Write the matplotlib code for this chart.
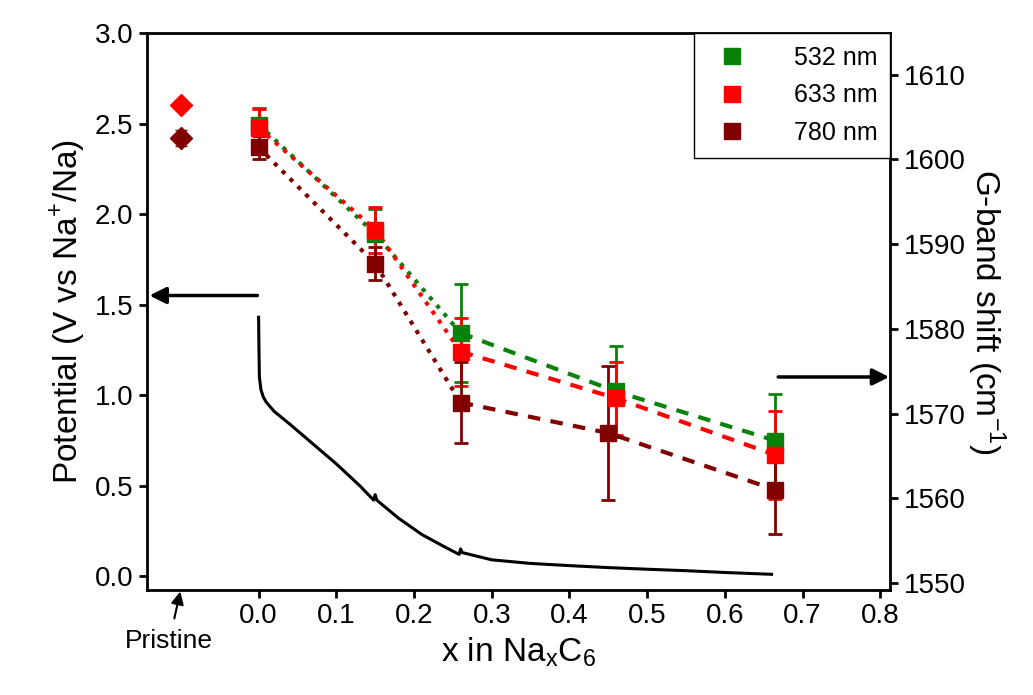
import matplotlib.pyplot as plt
from matplotlib.lines import Line2D

plt.rcParams['font.family'] = ['Liberation Sans', 'DejaVu Sans']

# Raman G-band shift data (cm-1)
x_pts = [0.0, 0.15, 0.26, 0.46, 0.665]
x780 = [0.0, 0.15, 0.26, 0.45, 0.665]
g532 = [1604.1, 1591.2, 1579.5, 1572.6, 1566.8]
g633 = [1603.7, 1591.7, 1577.3, 1571.8, 1565.1]
g780 = [1601.4, 1587.7, 1571.3, 1567.7, 1561.0]
e532 = [1.9, 2.9, 5.8, 5.4, 5.5]
e633 = [2.2, 2.7, 4.0, 4.3, 5.2]
e780 = [1.4, 2.0, 4.8, 7.9, 5.2]
pristine_x = -0.1
pristine_633 = 1606.4
pristine_780 = 1602.5

# potential curve (V vs Na+/Na)
cx = [0.0, 0.0005, 0.001, 0.003, 0.006, 0.01, 0.02, 0.04, 0.07, 0.10, 0.13, 0.148, 0.15, 0.152,
      0.18, 0.21, 0.24, 0.258, 0.26, 0.262, 0.30, 0.35, 0.40, 0.45, 0.50, 0.55, 0.60, 0.66]
cv = [1.43, 1.25, 1.10, 1.03, 0.99, 0.96, 0.91, 0.84, 0.73, 0.62, 0.50, 0.42, 0.45, 0.42,
      0.32, 0.23, 0.16, 0.12, 0.15, 0.13, 0.09, 0.07, 0.058, 0.047, 0.038, 0.030, 0.020, 0.01]

colors = {'532': '#0a820a', '633': '#ff0000', '780': '#800000'}

fig, ax = plt.subplots(figsize=(10.33, 6.95), dpi=100)
fig.subplots_adjust(left=0.142, right=0.862, top=0.9525, bottom=0.151)
ax.plot(cx, cv, color='black', lw=2.2)
ax.set_xlim(-0.144, 0.813)
ax.set_ylim(-0.077, 3.0)
ax.set_xticks([0, 0.1, 0.2, 0.3, 0.4, 0.5, 0.6, 0.7, 0.8])
ax.set_xticklabels(['0.0', '0.1', '0.2', '0.3', '0.4', '0.5', '0.6', '0.7', '0.8'])
ax.set_yticks([0, 0.5, 1.0, 1.5, 2.0, 2.5, 3.0])
ax.set_xlabel('x in Na$_\\mathregular{x}$C$_\\mathregular{6}$', fontsize=24, labelpad=4)
ax.set_ylabel('Potential (V vs Na$^\\mathregular{+}$/Na)', fontsize=24, labelpad=6)
ax.tick_params(labelsize=20, width=2, length=6)
for s in ax.spines.values():
    s.set_linewidth(2)

ax2 = ax.twinx()
ax2.set_ylim(1549.17, 1614.9)
ax2.set_yticks(range(1550, 1611, 10))
ax2.set_ylabel('G-band shift (cm$^\\mathregular{-1}$)', fontsize=24, rotation=270, labelpad=30)
ax2.tick_params(labelsize=20, width=2, length=6)

for key, xs, vals, errs in [('532', x_pts, g532, e532), ('633', x_pts, g633, e633),
                            ('780', x780, g780, e780)]:
    c = colors[key]
    ax2.plot(xs[:3], vals[:3], ':', color=c, lw=3)
    ax2.plot(xs[2:], vals[2:], '--', color=c, lw=3, dashes=(3, 2.5))
    ax2.errorbar(xs, vals, yerr=errs, fmt='s', color=c, ms=12, capsize=5,
                 lw=2, capthick=2)
ax2.errorbar([pristine_x], [pristine_633], yerr=[0.5], fmt='D', color=colors['633'], ms=11, capsize=4)
ax2.errorbar([pristine_x], [pristine_780], yerr=[0.9], fmt='D', color=colors['780'], ms=11, capsize=4)

handles = [Line2D([], [], marker='s', ls='', color=colors[k], ms=12) for k in ['532', '633', '780']]
ax2.legend(handles, ['532 nm', '633 nm', '780 nm'], loc='upper right', fontsize=18,
           frameon=True, fancybox=False, edgecolor='black', handletextpad=1.5,
           borderpad=0.5, borderaxespad=0.0, labelspacing=0.55, framealpha=1)

ax.annotate('', xy=(-0.144, 1.55), xytext=(0.002, 1.55),
            arrowprops=dict(arrowstyle='-|>', color='black', lw=2.5, mutation_scale=25))
ax.annotate('', xy=(0.815, 1.1), xytext=(0.665, 1.1), annotation_clip=False,
            arrowprops=dict(arrowstyle='-|>', color='black', lw=2.5, mutation_scale=25))
ax.annotate('Pristine', xy=(pristine_x, -0.07), xytext=(-0.115, -0.36),
            fontsize=19, ha='center', va='center', annotation_clip=False,
            arrowprops=dict(arrowstyle='-|>', color='black', lw=1.5, shrinkA=6))

fig.savefig('out.png', dpi=100)
